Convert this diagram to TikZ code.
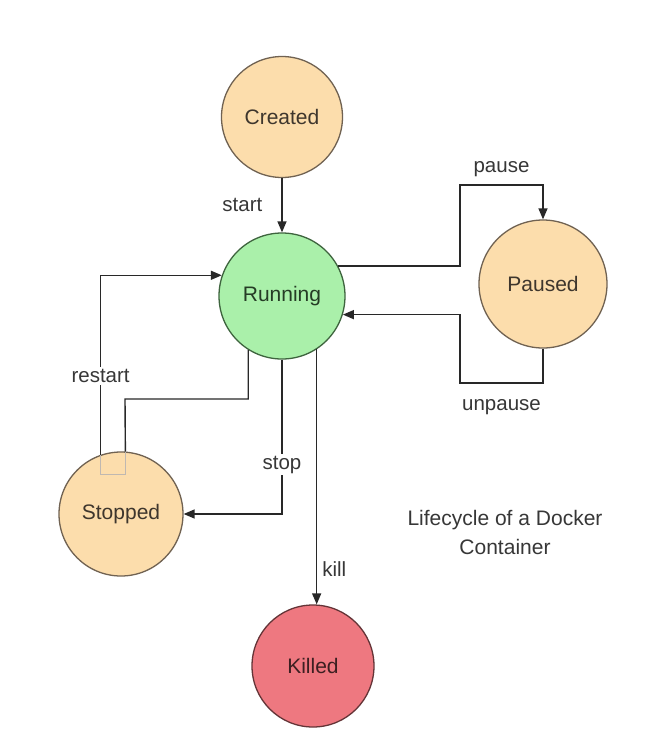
\documentclass[tikz,border=0pt]{standalone}
\usepackage{fontspec}
\setmainfont{Liberation Sans}
\usetikzlibrary{positioning,arrows.meta,calc}
\definecolor{peach}{RGB}{252,221,172}
\definecolor{peachln}{RGB}{112,98,82}
\definecolor{mint}{RGB}{170,240,170}
\definecolor{mintln}{RGB}{62,100,62}
\definecolor{rose}{RGB}{238,120,128}
\definecolor{roseln}{RGB}{100,52,55}
\definecolor{wire}{RGB}{40,40,40}
\definecolor{txtgray}{RGB}{55,55,55}
\tikzset{
  stnode/.style ={circle, line width=1.3pt, minimum size=124pt, inner sep=0pt,
                  font=\fontsize{21}{25}\selectfont},
  ar/.style     ={-{Triangle[length=11pt,width=9pt]}, draw=wire, line width=1.4pt},
  ln/.style     ={draw=wire, line width=1.4pt},
  faint/.style  ={draw=peachln!45, line width=0.9pt},
  lbl/.style    ={font=\fontsize{20.5}{24}\selectfont, text=txtgray, inner sep=2pt},
}
\begin{document}
\begin{tikzpicture}[x=1pt,y=-1pt]
\useasboundingbox[fill=white] (0,0) rectangle (648,740);

\node[stnode,fill=peach,draw=peachln,text=peachln!55!black,minimum size=121pt] (created) at (282,117) {Created};
\node[stnode,fill=mint,draw=mintln,text=mintln!60!black,minimum size=126pt] (running) at (282,296) {Running};
\node[stnode,fill=peach,draw=peachln,text=peachln!55!black,minimum size=128pt] (paused) at (543,284) {Paused};
\node[stnode,fill=peach,draw=peachln,text=peachln!55!black] (stopped) at (121,514) {Stopped};
\node[stnode,fill=rose,draw=roseln,text=roseln!60!black,minimum size=122pt] (killed) at (313,666) {Killed};

\node[font=\fontsize{21}{29}\selectfont,text=txtgray,align=center] (title) at (505,532)
  {Lifecycle of a Docker\\Container};

% waypoints of the bent connectors
\coordinate (pup) at (460,185);
\coordinate (pdn) at (460,383);
\coordinate (rbend) at (125,399);

\draw[ar] (created.south) -- node[lbl,left=17pt] {start} (running.north);
\draw[ar] (running.28) -| (pup) -| node[lbl,pos=0.25,above=6pt] {pause} (paused.north);
\draw[ar] (paused.south) |- node[lbl,pos=0.75,below=14pt] {unpause} (pdn) |- (running.-17);
\draw[ar] (running.south) |- node[lbl,pos=0.34,fill=white] {stop} (stopped.east);
\draw[ar] (running.-57) -- node[lbl,pos=0.86,right=3pt] {kill} (running.-57 |- killed.north);

\draw[ln] (running.-122) |- (rbend) -- (stopped.86);
\draw[ar] (stopped.109) |- node[lbl,pos=0.22,fill=white] {restart} (running.161);
\draw[faint] (stopped.109) -- ++(0,20) -| (stopped.86);
\end{tikzpicture}
\end{document}
